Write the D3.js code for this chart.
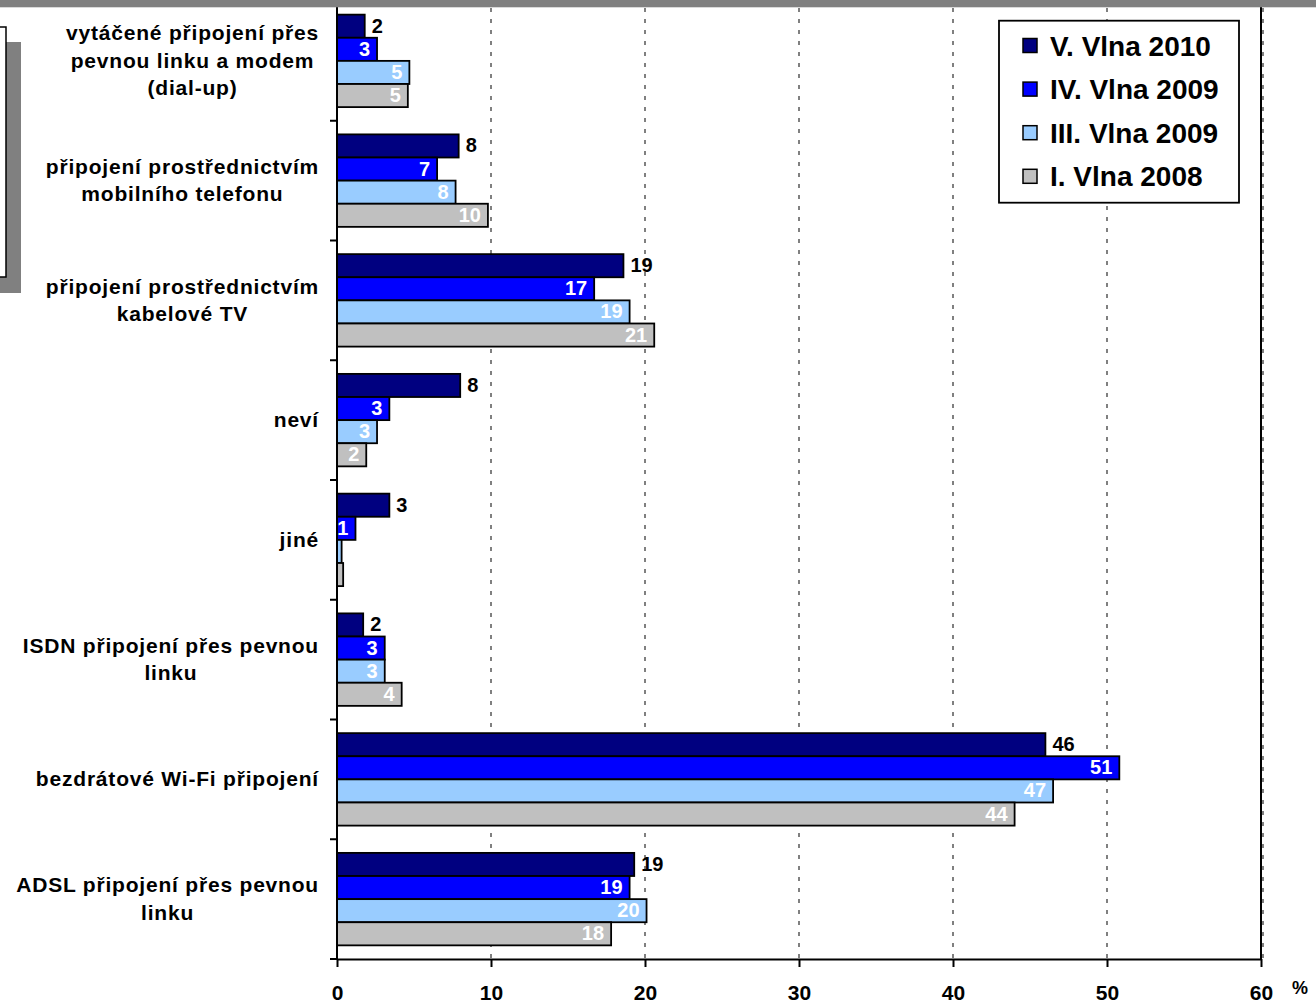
<!DOCTYPE html>
<html>
<head>
<meta charset="utf-8">
<script src="https://cdn.jsdelivr.net/npm/d3@7"></script>
<style>
  body { margin: 0; background: #fff; }
  text { font-family: "Liberation Sans", Arial, sans-serif; font-weight: bold; }
</style>
</head>
<body>
<script>
// categories top -> bottom, "\n" marks a line break in the label
const categories = [
  "vytáčené připojení přes\npevnou linku a modem\n(dial-up)",
  "připojení prostřednictvím\nmobilního telefonu",
  "připojení prostřednictvím\nkabelové TV",
  "neví",
  "jiné",
  "ISDN připojení přes pevnou\nlinku",
  "bezdrátové Wi-Fi připojení",
  "ADSL připojení přes pevnou\nlinku"
];

const series = ["V. Vlna 2010", "IV. Vlna 2009", "III. Vlna 2009", "I. Vlna 2008"];

const vlna5_2010 = [1.8, 7.9, 18.6, 8.0, 3.4, 1.7, 46.0, 19.3];
const vlna4_2009 = [2.6, 6.5, 16.7, 3.4, 1.2, 3.1, 50.8, 19.0];
const vlna3_2009 = [4.7, 7.7, 19.0, 2.6, 0.3, 3.1, 46.5, 20.1];
const vlna1_2008 = [4.6, 9.8, 20.6, 1.9, 0.4, 4.2, 44.0, 17.8];

const xTicks = [0, 10, 20, 30, 40, 50, 60];

const WIDTH = 1316;
const HEIGHT = 1006;
const COLORS = ["#000080", "#0000FF", "#99CCFF", "#C0C0C0"];
const LABELCOLORS = ["#000", "#fff", "#fff", "#fff"];

const allValues = [vlna5_2010, vlna4_2009, vlna3_2009, vlna1_2008];

const svg = d3.select("body")
              .append("svg")
              .attr("width", WIDTH)
              .attr("height", HEIGHT);

const x = d3.scaleLinear().domain([0, 60]).range([337, 1261]);
const y0 = d3.scaleBand().domain(categories).range([1, 959]);
const y1 = d3.scaleBand().domain(series).range([0, y0.bandwidth()]).paddingOuter(0.59);
const color = d3.scaleOrdinal().domain(series).range(COLORS);

const rows = series.flatMap((s, si) =>
  categories.map((c, ci) => ({ s, si, c, v: allValues[si][ci] })));

// gridlines
svg.append("g")
   .selectAll("line")
   .data(xTicks.filter(t => t > 0))
   .join("line")
   .attr("x1", d => x(d) + (d === 60 ? 2 : 0))
   .attr("x2", d => x(d) + (d === 60 ? 2 : 0))
   .attr("y1", 8)
   .attr("y2", y0.range()[1])
   .attr("stroke", "#808080")
   .attr("stroke-width", 2)
   .attr("stroke-dasharray", "4,7");

// right border of plot
svg.append("line")
   .attr("x1", x(60)).attr("x2", x(60))
   .attr("y1", 7).attr("y2", y0.range()[1])
   .attr("stroke", "#000").attr("stroke-width", 2);

// bars
svg.append("g")
   .selectAll("rect")
   .data(rows)
   .join("rect")
   .attr("x", x(0))
   .attr("y", d => y0(d.c) + y1(d.s))
   .attr("width", d => x(d.v) - x(0))
   .attr("height", y1.bandwidth())
   .attr("fill", d => color(d.s))
   .attr("stroke", "#000")
   .attr("stroke-width", 1.8);

// value labels
svg.append("g")
   .selectAll("text")
   .data(rows.filter(d => Math.round(d.v) > 0))
   .join("text")
   .attr("x", d => d.si === 0 ? x(d.v) + 7 : x(d.v) - 7)
   .attr("y", d => y0(d.c) + y1(d.s) + y1.bandwidth() / 2 + 6.5)
   .attr("text-anchor", d => d.si === 0 ? "start" : "end")
   .attr("font-size", 20)
   .attr("fill", d => LABELCOLORS[d.si])
   .text(d => Math.round(d.v));

// left axis
svg.append("line")
   .attr("x1", x(0)).attr("x2", x(0))
   .attr("y1", 7).attr("y2", y0.range()[1])
   .attr("stroke", "#000").attr("stroke-width", 2);

const bounds = categories.map(c => y0(c)).slice(1).concat(y0.range()[1]);
svg.append("g")
   .selectAll("line")
   .data(bounds)
   .join("line")
   .attr("x1", x(0) - 7).attr("x2", x(0))
   .attr("y1", d => d).attr("y2", d => d)
   .attr("stroke", "#000").attr("stroke-width", 2);

// category labels: block right-aligned, lines centred inside it
const LINEH = 27.5;
const catLabels = svg.append("g")
   .selectAll("text")
   .data(categories)
   .join("text")
   .attr("font-size", 21)
   .attr("letter-spacing", 0.8)
   .attr("text-anchor", "middle");

catLabels.each(function(c) {
  const lines = c.split("\n");
  const mid = y0(c) + y0.bandwidth() / 2;
  const t = d3.select(this);
  lines.forEach((l, i) => {
    t.append("tspan")
     .attr("y", mid + (i - (lines.length - 1) / 2) * LINEH + 7)
     .text(l);
  });
  const maxW = d3.max(t.selectAll("tspan").nodes(), n => n.getComputedTextLength());
  t.selectAll("tspan").attr("x", 319 - maxW / 2);
});

// bottom axis
const xAxis = svg.append("g")
   .attr("transform", `translate(0,${y0.range()[1]})`)
   .call(d3.axisBottom(x).tickValues(xTicks).tickSize(8).tickSizeOuter(0).tickPadding(18));

xAxis.select(".domain").attr("stroke", "#000").attr("stroke-width", 2);
xAxis.selectAll(".tick line").attr("stroke", "#000").attr("stroke-width", 2);
xAxis.selectAll(".tick text")
     .attr("font-size", 21)
     .attr("font-family", "Liberation Sans, Arial, sans-serif")
     .attr("font-weight", "bold")
     .attr("fill", "#000");

svg.append("text")
   .attr("x", 1300)
   .attr("y", 994)
   .attr("text-anchor", "middle")
   .attr("font-size", 18)
   .text("%");

// legend
const legend = svg.append("g");
legend.append("rect")
      .attr("x", 999).attr("y", 20.7)
      .attr("width", 240).attr("height", 182)
      .attr("fill", "#fff")
      .attr("stroke", "#000").attr("stroke-width", 1.8);

const items = legend.selectAll("g")
      .data(series)
      .join("g")
      .attr("transform", (d, i) => `translate(1023,${45.5 + i * 43.6})`);

items.append("rect")
     .attr("x", 0).attr("y", -7)
     .attr("width", 14).attr("height", 14)
     .attr("fill", d => color(d))
     .attr("stroke", "#000").attr("stroke-width", 1.5);

items.append("text")
     .attr("x", 27)
     .attr("y", 10)
     .attr("font-size", 28)
     .text(d => d);

// cropped slide decorations
svg.append("rect")
   .attr("x", -10).attr("y", 42).attr("width", 31).attr("height", 251)
   .attr("fill", "#808080");
svg.append("rect")
   .attr("x", -10).attr("y", 27).attr("width", 16).attr("height", 250)
   .attr("fill", "#fff")
   .attr("stroke", "#000").attr("stroke-width", 1.5);
svg.append("rect")
   .attr("x", 0).attr("y", 0).attr("width", WIDTH).attr("height", 7.3)
   .attr("fill", "#808080");
</script>
</body>
</html>
